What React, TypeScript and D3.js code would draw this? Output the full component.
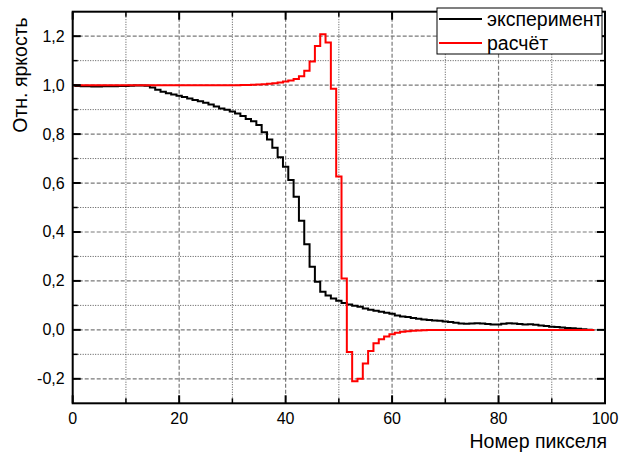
import React from 'react';
import * as d3 from 'd3';

const xMajorTicks = [0, 20, 40, 60, 80, 100];
const xMinorTicks = [10, 30, 50, 70, 90];
const yMajorTicks = [-0.2, 0, 0.2, 0.4, 0.6, 0.8, 1.0, 1.2];
const yMinorTicks = [-0.1, 0.1, 0.3, 0.5, 0.7, 0.9, 1.1];

const seriesNames = ['эксперимент', 'расчёт'];
const xLabel = 'Номер пикселя';
const yLabel = 'Отн. яркость';

// values per pixel index 0..98
const experiment = [
  1.000, 0.996, 0.995, 0.995, 0.994, 0.994, 0.995, 0.995, 0.995, 0.996,
  0.996, 0.997, 0.998, 0.998, 0.997, 0.990, 0.981, 0.973, 0.967, 0.962,
  0.957, 0.951, 0.945, 0.939, 0.934, 0.928, 0.921, 0.913, 0.905, 0.899,
  0.892, 0.884, 0.874, 0.862, 0.852, 0.837, 0.807, 0.778, 0.744, 0.705,
  0.667, 0.612, 0.544, 0.446, 0.350, 0.258, 0.197, 0.156, 0.140, 0.128,
  0.119, 0.110, 0.104, 0.099, 0.094, 0.087, 0.082, 0.078, 0.074, 0.070,
  0.066, 0.059, 0.055, 0.053, 0.049, 0.045, 0.042, 0.040, 0.038, 0.037,
  0.034, 0.032, 0.029, 0.026, 0.025, 0.026, 0.027, 0.026, 0.024, 0.022,
  0.022, 0.025, 0.027, 0.026, 0.024, 0.022, 0.023, 0.021, 0.018, 0.016,
  0.013, 0.012, 0.010, 0.008, 0.007, 0.005, 0.003, 0.001, 0.000,
];

const calculation = [
  1.000, 1.000, 1.000, 1.000, 1.000, 1.000, 1.000, 1.000, 1.000, 1.000,
  1.000, 1.000, 1.000, 1.000, 1.000, 1.000, 1.000, 1.000, 1.000, 1.000,
  1.000, 1.000, 1.000, 1.000, 1.000, 1.000, 1.000, 1.000, 1.000, 1.000,
  1.000, 1.000, 1.001, 1.001, 1.002, 1.003, 1.004, 1.006, 1.008, 1.011,
  1.015, 1.019, 1.025, 1.036, 1.059, 1.097, 1.160, 1.208, 1.174, 0.985,
  0.627, 0.210, -0.090, -0.210, -0.200, -0.137, -0.086, -0.055, -0.038, -0.027,
  -0.018, -0.012, -0.008, -0.006, -0.004, -0.003, -0.002, -0.001, -0.001, 0.000,
  0.000, 0.000, 0.000, 0.000, 0.000, 0.000, 0.000, 0.000, 0.000, 0.000,
  0.000, 0.000, 0.000, 0.000, 0.000, 0.000, 0.000, 0.000, 0.000, 0.000,
  0.000, 0.000, 0.000, 0.000, 0.000, 0.000, 0.000, 0.000, 0.000,
];

const FONT = '"Liberation Sans", Arial, sans-serif';

export default function App() {
  const W = 625, H = 453;
  const left = 72.7, right = 605, top = 11.7, bottom = 403.3;
  const x = d3.scaleLinear().domain([0, 100]).range([left, right]);
  const y = d3.scaleLinear().domain([-0.3, 1.3]).range([bottom, top]);
  const line = d3.line<number>().x((_, i) => x(i)).y((d) => y(d)).curve(d3.curveStep);
  const fmt = (v: number) => v.toFixed(1).replace('.', ',');

  const majLen = 8, minLen = 5;

  return (
    <svg width={W} height={H} style={{ position: 'absolute', left: 0, top: 0, background: '#fff' }}
      fontFamily={FONT}>
      <rect x={0} y={0} width={W} height={H} fill="#fff" />
      {/* grid */}
      <g>
        {xMinorTicks.map((t) => (
          <line key={'gxm' + t} x1={x(t)} x2={x(t)} y1={top} y2={bottom}
            stroke="#555" strokeWidth={1} strokeDasharray="1,1.5" />
        ))}
        {yMinorTicks.map((t) => (
          <line key={'gym' + t} x1={left} x2={right} y1={y(t)} y2={y(t)}
            stroke="#555" strokeWidth={1} strokeDasharray="1,1.5" />
        ))}
        {xMajorTicks.slice(1, -1).map((t) => (
          <line key={'gx' + t} x1={x(t)} x2={x(t)} y1={top} y2={bottom}
            stroke="#7a7a7a" strokeWidth={1.2} strokeDasharray="4,2" />
        ))}
        {yMajorTicks.map((t) => (
          <line key={'gy' + t} x1={left} x2={right} y1={y(t)} y2={y(t)}
            stroke="#7a7a7a" strokeWidth={1.2} strokeDasharray="4,2" />
        ))}
      </g>
      {/* curves */}
      <path d={line(experiment) || ''} fill="none" stroke="#000" strokeWidth={2} />
      <path d={line(calculation) || ''} fill="none" stroke="#ff0000" strokeWidth={2} />
      {/* frame */}
      <rect x={left} y={top} width={right - left} height={bottom - top} fill="none" stroke="#000" strokeWidth={2} />
      {/* ticks */}
      <g stroke="#000">
        {xMajorTicks.map((t) => (
          <g key={'tx' + t}>
            <line x1={x(t)} x2={x(t)} y1={bottom} y2={bottom - majLen} strokeWidth={2} />
            <line x1={x(t)} x2={x(t)} y1={top} y2={top + majLen} strokeWidth={2} />
          </g>
        ))}
        {xMinorTicks.map((t) => (
          <g key={'txm' + t}>
            <line x1={x(t)} x2={x(t)} y1={bottom} y2={bottom - minLen} strokeWidth={1.5} />
            <line x1={x(t)} x2={x(t)} y1={top} y2={top + minLen} strokeWidth={1.5} />
          </g>
        ))}
        {yMajorTicks.map((t) => (
          <g key={'ty' + t}>
            <line x1={left} x2={left + majLen} y1={y(t)} y2={y(t)} strokeWidth={2} />
            <line x1={right} x2={right - majLen} y1={y(t)} y2={y(t)} strokeWidth={2} />
          </g>
        ))}
        {yMinorTicks.map((t) => (
          <g key={'tym' + t}>
            <line x1={left} x2={left + minLen} y1={y(t)} y2={y(t)} strokeWidth={1.5} />
            <line x1={right} x2={right - minLen} y1={y(t)} y2={y(t)} strokeWidth={1.5} />
          </g>
        ))}
      </g>
      {/* tick labels */}
      <g fontSize={16} fill="#000">
        {xMajorTicks.map((t) => (
          <text key={'lx' + t} x={x(t)} y={423.5} textAnchor="middle">{t}</text>
        ))}
        {yMajorTicks.map((t) => (
          <text key={'ly' + t} x={left - 8} y={y(t) + 5.5} textAnchor="end">{fmt(t)}</text>
        ))}
      </g>
      {/* axis labels */}
      <text x={607} y={448} textAnchor="end" fontSize={19.5}>{xLabel}</text>
      <text transform={`translate(27,75) rotate(-90)`} textAnchor="middle" fontSize={19.5}>{yLabel}</text>
      {/* legend */}
      <g>
        <rect x={437} y={8} width={165} height={46} fill="#fff" stroke="#000" strokeWidth={1} />
        <line x1={439} x2={482} y1={19} y2={19} stroke="#000" strokeWidth={2} />
        <line x1={439} x2={482} y1={43} y2={43} stroke="#ff0000" strokeWidth={2} />
        <text x={487} y={26} fontSize={19.5}>{seriesNames[0]}</text>
        <text x={487} y={50} fontSize={19.5}>{seriesNames[1]}</text>
      </g>
    </svg>
  );
}
